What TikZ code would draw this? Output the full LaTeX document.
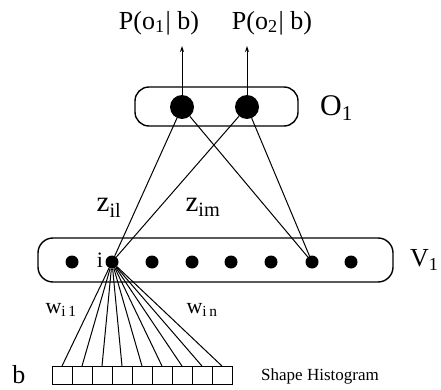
\documentclass[tikz,border=0pt]{standalone}
\usepackage{fontspec}
\setmainfont{Liberation Serif}
\usetikzlibrary{arrows.meta}
\begin{document}
\begin{tikzpicture}[x=1pt,y=-1pt,
  layerbox/.style={draw, line width=1.4pt, inner sep=0pt},
  vdot/.style={circle, fill=black, inner sep=0pt, minimum size=13pt},
  odot/.style={circle, fill=black, inner sep=0pt, minimum size=24pt},
  wire/.style={line width=1pt},
  uparrow/.style={line width=1pt, -{Stealth[length=6pt,width=4pt]}},
  cell/.style={draw, line width=0.9pt, minimum width=20pt, minimum height=18pt, inner sep=0pt},
  biglbl/.style={inner sep=0pt, font=\fontsize{26}{28}\selectfont},
  olbl/.style={inner sep=0pt, font=\fontsize{30}{32}\selectfont},
  vlbl/.style={inner sep=0pt, font=\fontsize{26}{28}\selectfont},
  zlbl/.style={inner sep=0pt, font=\fontsize{29}{31}\selectfont},
  wlbl/.style={inner sep=0pt, font=\fontsize{22}{24}\selectfont},
  smalllbl/.style={inner sep=0pt, font=\fontsize{17}{19}\selectfont},
]
\useasboundingbox (0,0) rectangle (441,390);

% O1 layer
\node[layerbox, rounded corners=14pt, minimum width=163pt, minimum height=39pt] (obox) at (216.5,106.5) {};
\node[odot] (o1) at (182,107) {};
\node[odot] (o2) at (247,107) {};
\node[olbl, anchor=west] (olab) at (320,108) {O\textsubscript{1}};

% outputs
\coordinate (t1) at (182,46);
\coordinate (t2) at (247,46);
\draw[uparrow] (o1) -- (t1);
\draw[uparrow] (o2) -- (t2);
\node[biglbl] (p1) at (159,23) {P(o\textsubscript{1}\kern1pt| b)};
\node[biglbl] (p2) at (272,23) {P(o\textsubscript{2}\kern1pt| b)};

% V1 layer
\node[layerbox, rounded corners=15pt, minimum width=355pt, minimum height=44pt] (vbox) at (215.5,260) {};
\foreach \k/\x in {1/72,2/112,3/152,4/192,5/231,6/271,7/312,8/351}
  \node[vdot] (v\k) at (\x,262) {};
\node[wlbl] (ilbl) at (100,260) {i};
\node[vlbl, anchor=west] (vlab) at (410,260) {V\textsubscript{1}};

% connections O -> V
\draw[wire] (o1) -- (v2);
\draw[wire] (o1) -- (v7);
\draw[wire] (o2) -- (v2);
\draw[wire] (o2) -- (v7);
\node[zlbl] (z1) at (109,208) {z\textsubscript{il}};
\node[zlbl] (z2) at (203,207) {z\textsubscript{im}};

% histogram
\foreach \k in {1,...,9}
  \node[cell] (c\k) at ({42+20*\k},375.5) {};
\foreach \k in {1,...,9}
  \draw[wire] (v2) -- (c\k.north);
\node[wlbl] (w1) at (61,310) {w\textsubscript{i\,1}};
\node[wlbl] (w2) at (202,310) {w\textsubscript{i\,n}};
\node[vlbl] (blbl) at (19,375) {b};
\node[smalllbl, anchor=west] (shlbl) at (261,376) {Shape Histogram};
\end{tikzpicture}
\end{document}
